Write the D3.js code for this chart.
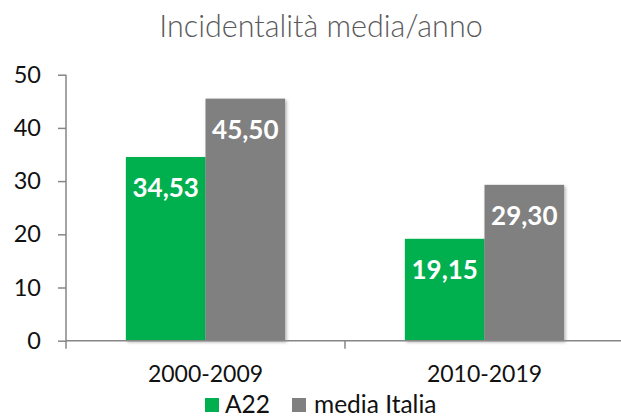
<!DOCTYPE html>
<html>
<head>
<meta charset="utf-8">
<script src="https://cdn.jsdelivr.net/npm/d3@7"></script>
<style>
  body { margin: 0; background: #fff; }
  svg { display: block; font-family: Lato, "Open Sans", sans-serif; }
</style>
</head>
<body>
<svg id="chart" width="621" height="416"></svg>
<script>
const periods = ['2000-2009', '2010-2019'];
const seriesNames = ['A22', 'media Italia'];
const a22Values = [34.53, 19.15];
const italiaValues = [45.50, 29.30];
const yTicks = [0, 10, 20, 30, 40, 50];
const titleText = 'Incidentalità media/anno';

const colors = { 'A22': '#00b050', 'media Italia': '#808080' };

const svg = d3.select('#chart');
const W = 621, H = 416;
const margin = { left: 66, right: -3, top: 74.7, bottom: 75.3 };

// shadow like the excel bars
const defs = svg.append('defs');
const f = defs.append('filter').attr('id', 'shadow').attr('x', '-10%').attr('y', '-10%').attr('width', '130%').attr('height', '130%');
f.append('feDropShadow').attr('dx', 1.5).attr('dy', 1.5).attr('stdDeviation', 1.5)
  .attr('flood-color', '#000').attr('flood-opacity', 0.3);

const x0 = d3.scaleBand()
  .domain(periods)
  .range([margin.left, W - margin.right])
  .paddingInner(0)
  .paddingOuter(0);

const x1 = d3.scaleBand()
  .domain(seriesNames)
  .range([0, x0.bandwidth()])
  .paddingOuter(0.752);

const y = d3.scaleLinear()
  .domain([0, 50])
  .range([H - margin.bottom, margin.top]);

const data = periods.map((p, i) => ({
  period: p,
  values: [
    { key: 'A22', value: a22Values[i] },
    { key: 'media Italia', value: italiaValues[i] }
  ]
}));

// title
svg.append('text')
  .attr('x', 321)
  .attr('y', 36.7)
  .attr('text-anchor', 'middle')
  .style('font-size', '30.5px')
  .style('font-weight', 300)
  .style('fill', '#595959')
  .text(titleText);

// bars
const groups = svg.append('g').selectAll('g.group')
  .data(data)
  .enter()
  .append('g')
  .attr('class', 'group')
  .attr('transform', d => `translate(${x0(d.period)},0)`);

groups.selectAll('rect')
  .data(d => d.values)
  .enter()
  .append('rect')
  .attr('x', d => x1(d.key))
  .attr('y', d => y(d.value))
  .attr('width', x1.bandwidth())
  .attr('height', d => y(0) - y(d.value))
  .attr('fill', d => colors[d.key])
  .attr('filter', 'url(#shadow)');

groups.selectAll('text.val')
  .data(d => d.values)
  .enter()
  .append('text')
  .attr('class', 'val')
  .attr('x', d => x1(d.key) + x1.bandwidth() / 2)
  .attr('y', d => y(d.value) + 40)
  .attr('text-anchor', 'middle')
  .style('font-size', '26px')
  .style('font-weight', 700)
  .style('fill', '#fff')
  .text(d => d3.format('.2f')(d.value).replace('.', ','));

// y axis
const yAxis = d3.axisLeft(y)
  .tickValues(yTicks)
  .tickSize(8)
  .tickPadding(17);

const gy = svg.append('g')
  .attr('transform', `translate(${margin.left},0)`)
  .call(yAxis);
gy.select('.domain').attr('d', `M0,${y(50)}V${y(0)}`).attr('stroke', '#868686').attr('stroke-width', 1.5);
gy.selectAll('.tick line').attr('stroke', '#868686').attr('stroke-width', 1.5);
gy.selectAll('.tick text')
  .style('font-size', '23.5px')
  .style('font-family', 'Lato, sans-serif')
  .style('fill', '#111');

// x axis
const xAxis = d3.axisBottom(x0)
  .tickSize(0)
  .tickPadding(25);

const gx = svg.append('g')
  .attr('transform', `translate(0,${y(0)})`)
  .call(xAxis);
gx.select('.domain').attr('d', `M${margin.left},0H${W}`).attr('stroke', '#868686').attr('stroke-width', 1.5);
gx.selectAll('.tick text')
  .style('font-size', '23px')
  .style('font-family', 'Lato, sans-serif')
  .style('fill', '#111');

// x category separators
gx.selectAll('line.sep')
  .data(periods.map(p => x0(p)).concat([x0.range()[1]]))
  .enter()
  .append('line')
  .attr('class', 'sep')
  .attr('x1', d => d).attr('x2', d => d)
  .attr('y1', 0).attr('y2', 8)
  .attr('stroke', '#868686')
  .attr('stroke-width', 1.5);

// legend
const legend = svg.append('g').attr('transform', 'translate(205,398)');
const legendX = [0, 87];
const li = legend.selectAll('g.item')
  .data(seriesNames)
  .enter()
  .append('g')
  .attr('transform', (d, i) => `translate(${legendX[i]},0)`);
li.append('rect')
  .attr('width', 14).attr('height', 14)
  .attr('fill', d => colors[d]);
li.append('text')
  .attr('x', d => d === 'A22' ? 20 : 22)
  .attr('y', 14.5)
  .style('font-size', '24.5px')
  .style('fill', '#111')
  .text(d => d);
</script>
</body>
</html>
